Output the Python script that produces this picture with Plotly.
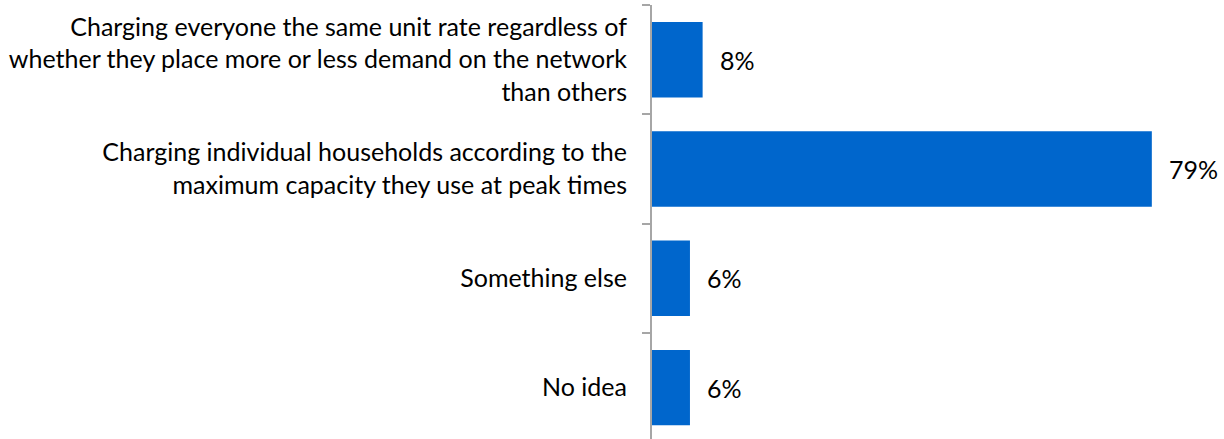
import plotly.graph_objects as go

categories = [
    "Charging everyone the same unit rate regardless of<br>whether they place more or less demand on the network<br>than others",
    "Charging individual households according to the<br>maximum capacity they use at peak times",
    "Something else",
    "No idea",
]
values = [8, 79, 6, 6]
value_labels = ["8%", "79%", "6%", "6%"]

FONT = "Lato"
BAR_COLOR = "#0066CC"

fig = go.Figure(
    go.Bar(
        x=values,
        y=categories,
        orientation="h",
        marker=dict(color=BAR_COLOR, line=dict(width=0)),
        width=0.69,
        hoverinfo="skip",
    )
)

for cat, v, lab in zip(categories, values, value_labels):
    fig.add_annotation(
        x=v, y=cat, text=lab, showarrow=False,
        xanchor="left", xshift=15,
        font=dict(family=FONT, size=25, color="#000000"),
    )

fig.update_layout(
    width=1224, height=439,
    margin=dict(l=652, r=7, t=5, b=0),
    paper_bgcolor="white", plot_bgcolor="white",
    showlegend=False,
    font=dict(family=FONT, size=25, color="#000000"),
)
fig.update_xaxes(range=[0, 89.3], visible=False, fixedrange=True)
fig.update_yaxes(
    range=[3.47, -0.5],
    showline=True, linecolor="#A6A6A6", linewidth=2,
    ticks="outside", tickson="boundaries", ticklen=8, tickcolor="#A6A6A6", tickwidth=2,
    ticklabelstandoff=18,
    showgrid=False, zeroline=False,
    tickfont=dict(family=FONT, size=25, color="#000000"),
)

fig.write_html("out.html")
